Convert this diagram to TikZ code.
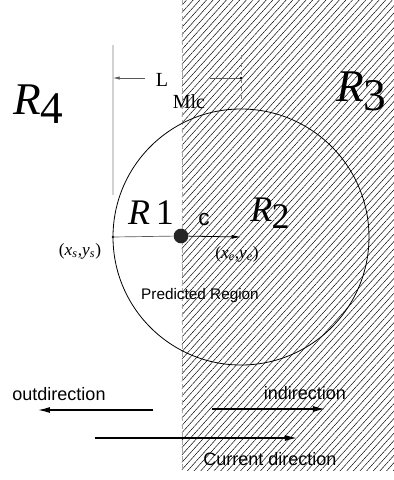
\documentclass[tikz,border=0pt]{standalone}
\usepackage{fontspec}
\setmainfont{Liberation Serif}
\setsansfont{Liberation Sans}
\usetikzlibrary{patterns.meta,arrows.meta}
\newcommand{\bigR}[1]{\textit{R}\kern-0.02em\raisebox{-0.2em}{#1}}
\tikzset{
  rbig/.style={font=\fontsize{34}{34}\selectfont, inner sep=0pt},
  rsmall/.style={font=\fontsize{27}{27}\selectfont, inner sep=0pt},
  sanslabel/.style={font=\sffamily\fontsize{13.5}{14}\selectfont, inner sep=0pt},
  coordlabel/.style={font=\fontsize{13}{13}\selectfont, inner sep=0pt},
  arr/.style={line width=1pt, -{Latex[length=9pt,width=4.5pt]}},
  thin/.style={line width=0.5pt, gray!70!black},
}
\begin{document}
\begin{tikzpicture}[x=0.75pt,y=-0.75pt]
\useasboundingbox (0,0) rectangle (394,480);
% hatched region
\fill[pattern={Lines[angle=48,distance=3.7pt,line width=0.35pt]}] (182,0) rectangle (394,470);
\draw[dash pattern=on 4pt off 2pt, line width=0.5pt, gray!70] (182,0) -- (182,470);
% circle
\coordinate (ce) at (241,237);
\draw[line width=0.6pt] (ce) circle[radius=128];
% points
\coordinate (xs) at (113,237);
\node[circle, fill=black!85, inner sep=0pt, minimum size=11pt] (c) at (181,236) {};
\fill (xs) circle[radius=1.3];
\draw[thin] (xs) -- (c);
\draw[line width=0.6pt, -{Latex[length=7pt,width=3pt]}] (c) -- (ce);
% LMlc
\coordinate (g1) at (113,45);
\coordinate (g2) at (113,195);
\draw[line width=1pt, gray!35] (g1) -- (g2);
\coordinate (la) at (145,78);
\coordinate (lb) at (113,78);
\coordinate (lc) at (210,78);
\coordinate (ld) at (241,78);
\draw[thin, -{Latex[length=5pt,width=2.5pt]}] (la) -- (lb);
\draw[thin] (lc) -- (ld);
\fill (ld) circle[radius=1.3];
\coordinate (d1) at (241,55);
\coordinate (d2) at (241,100);
\draw[dashed, line width=0.4pt, gray] (d1) -- (d2);
\node[font=\fontsize{15}{15}\selectfont, inner sep=0pt] (lL) at (162,80) {L};
\node[font=\fontsize{15}{15}\selectfont, inner sep=0pt] (lsub) at (189,102) {Mlc};
% region labels
\node[rbig] (r4) at (38,104) {\bigR{4}};
\node[rbig] (r3) at (361,91) {\bigR{3}};
\node[rsmall] (r1) at (151,213) {\textit{R}\,1};
\node[rsmall] (r2) at (270,213) {\bigR{2}};
\node[font=\sffamily\fontsize{17}{17}\selectfont, inner sep=0pt] (clab) at (204,220) {c};
\node[coordlabel] (xslab) at (80,251) {(\textit{x}\textsubscript{\textit{s}},\textit{y}\textsubscript{\textit{s}})};
\node[coordlabel] (xelab) at (237,254) {(\textit{x}\textsubscript{\textit{e}},\textit{y}\textsubscript{\textit{e}})};
\node[font=\sffamily\fontsize{11.5}{12}\selectfont, inner sep=0pt] (pr) at (200,296) {Predicted Region};
% directions
\node[sanslabel] (out) at (59,394) {outdirection};
\node[sanslabel] (in) at (305,393) {indirection};
\node[sanslabel] (cur) at (270,459) {Current direction};
\coordinate (o1) at (153,410);
\coordinate (o2) at (38,410);
\coordinate (i1) at (212,409);
\coordinate (i2) at (325,409);
\coordinate (c1) at (95,438);
\coordinate (c2) at (297,438);
\draw[arr] (o1) -- (o2);
\draw[arr] (i1) -- (i2);
\draw[arr] (c1) -- (c2);
\end{tikzpicture}
\end{document}
